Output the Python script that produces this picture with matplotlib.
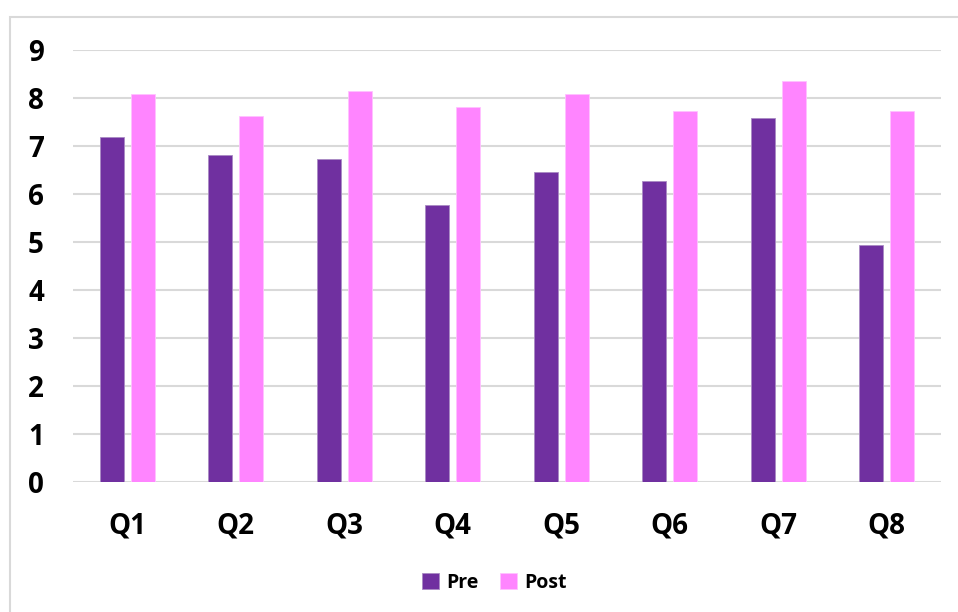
import numpy as np
import matplotlib.pyplot as plt
from matplotlib.patches import Rectangle

plt.rcParams['font.family'] = ['Open Sans', 'DejaVu Sans']
plt.rcParams['font.weight'] = 'bold'

# Средние оценки по вопросам до и после
questions = ['Q1', 'Q2', 'Q3', 'Q4', 'Q5', 'Q6', 'Q7', 'Q8']
pre = [7.18, 6.81, 6.72, 5.78, 6.45, 6.27, 7.59, 4.94]
post = [8.09, 7.63, 8.14, 7.81, 8.09, 7.72, 8.36, 7.72]

W, H = 958, 612
fig = plt.figure(figsize=(W / 100, H / 100), dpi=100)

# Рамка области диаграммы
fig.patches.append(Rectangle((10 / W, -0.1), 1.2, (H - 17) / H + 0.1,
                             transform=fig.transFigure, fill=False,
                             edgecolor='#D9D9D9', linewidth=1.5))

ax = fig.add_axes([73 / W, (H - 482) / H, 868 / W, 432 / H])

x = np.arange(len(questions))
bw = 0.22
gap = 0.065
ax.bar(x - (bw + gap) / 2, pre, bw, color='#7030A0', edgecolor='#A98BC4',
       linewidth=0.6, label='Pre', zorder=3)
ax.bar(x + (bw + gap) / 2, post, bw, color='#FF85FF', edgecolor='#FFC2FF',
       linewidth=0.6, label='Post', zorder=3)

ax.set_xlim(-0.5, len(questions) - 0.5)
ax.set_ylim(0, 9)
ax.set_yticks(range(10))
ax.set_xticks(x)
ax.set_xticklabels(questions)
ax.grid(axis='y', color='#D9D9D9', linewidth=1.5, zorder=0)
for s in ax.spines.values():
    s.set_visible(False)
ax.tick_params(axis='both', length=0, labelsize=20)
ax.tick_params(axis='y', pad=21)
ax.tick_params(axis='x', pad=21)

fig.legend(loc='center', bbox_to_anchor=(494 / W, 1 - 583 / H), ncol=2,
           frameon=False, fontsize=14, handlelength=0.9, handleheight=0.9,
           handletextpad=0.35, columnspacing=1.1)

plt.savefig('out.png', dpi=100)
